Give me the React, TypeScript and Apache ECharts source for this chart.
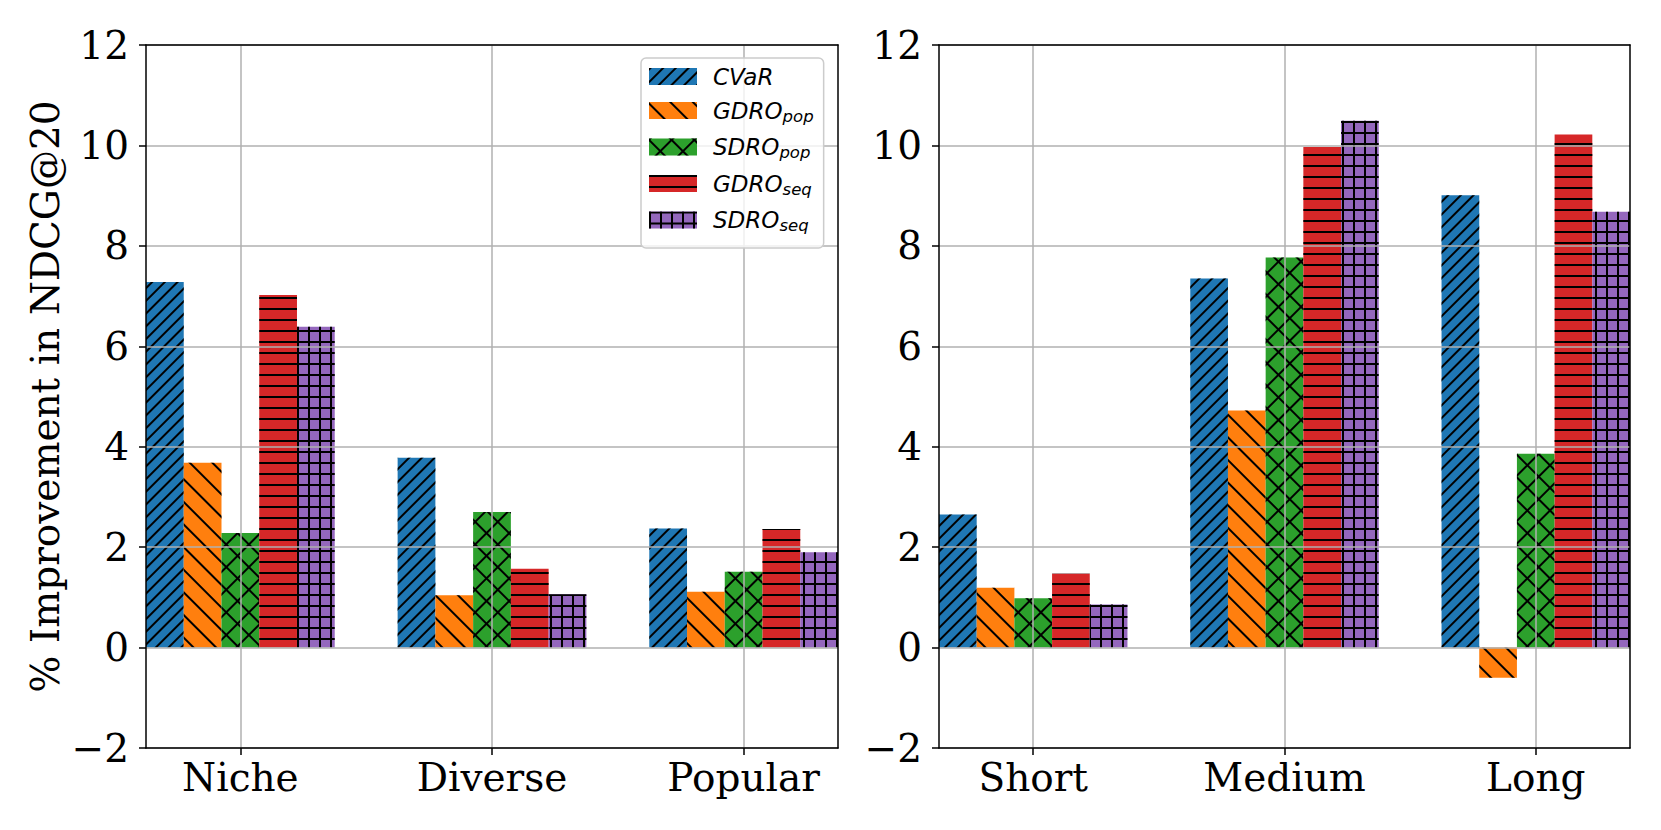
import React, { useEffect, useRef } from 'react';
import * as echarts from 'echarts';

// ---------- data ----------
const leftCategories = ['Niche', 'Diverse', 'Popular'];
const rightCategories = ['Short', 'Medium', 'Long'];
const methods = ['CVaR', 'GDRO_pop', 'SDRO_pop', 'GDRO_seq', 'SDRO_seq'];

// left panel (user groups)
const cvarLeft = [7.28, 3.78, 2.37];
const gdroPopLeft = [3.68, 1.04, 1.11];
const sdroPopLeft = [2.28, 2.7, 1.51];
const gdroSeqLeft = [7.02, 1.57, 2.36];
const sdroSeqLeft = [6.39, 1.06, 1.9];

// right panel (sequence length)
const cvarRight = [2.65, 7.35, 9.01];
const gdroPopRight = [1.19, 4.72, -0.6];
const sdroPopRight = [0.98, 7.77, 3.86];
const gdroSeqRight = [1.47, 9.97, 10.22];
const sdroSeqRight = [0.86, 10.49, 8.68];

const yTicksMin = -2;
const yTicksMax = 12;
const yTickStep = 2;

// ---------- styles ----------
const colors = ['#1f77b4', '#ff7f0e', '#2ca02c', '#d62728', '#9467bd'];
const decals: any[] = [
  { symbol: 'rect', color: '#000', symbolKeepAspect: false, dashArrayX: [[10, 0]], dashArrayY: [2, 7], rotation: -Math.PI / 4 },
  { symbol: 'rect', color: '#000', symbolKeepAspect: false, dashArrayX: [[10, 0]], dashArrayY: [2, 14], rotation: Math.PI / 4 },
  { symbol: 'rect', color: '#000', symbolKeepAspect: false, dashArrayX: [[16, 0], [2, 14]], dashArrayY: [2, 0, 14, 0], rotation: Math.PI / 4 },
  { symbol: 'rect', color: '#000', symbolKeepAspect: false, dashArrayX: [[10, 0]], dashArrayY: [2, 9], rotation: 0 },
  { symbol: 'rect', color: '#000', symbolKeepAspect: false, dashArrayX: [[11, 0], [2, 9]], dashArrayY: [2, 0, 9, 0], rotation: 0 },
];
const legendLabels: Record<string, string> = {
  CVaR: '{a|CVaR}',
  GDRO_pop: '{a|GDRO}{b|pop}',
  SDRO_pop: '{a|SDRO}{b|pop}',
  GDRO_seq: '{a|GDRO}{b|seq}',
  SDRO_seq: '{a|SDRO}{b|seq}',
};

const SERIF = 'DejaVu Serif';
const SANS = 'DejaVu Sans';
const AXIS_W = 1.5;

const fmtY = (v: number) => (v < 0 ? '\u2212' + String(-v) : String(v));

function mainX(gridIndex: number, cats: string[]) {
  return {
    type: 'value',
    gridIndex,
    min: -0.375,
    max: 2.375,
    z: 3,
    axisLine: { show: true, onZero: false, lineStyle: { color: '#000', width: AXIS_W } },
    axisTick: { show: true, customValues: [0, 1, 2], length: 7, inside: false, lineStyle: { color: '#000', width: AXIS_W } },
    axisLabel: {
      show: true,
      customValues: [0, 1, 2],
      formatter: (v: number) => cats[Math.round(v)] ?? '',
      margin: 10,
      fontSize: 39,
      fontFamily: SERIF,
      color: '#000',
    },
    splitLine: { show: true, lineStyle: { color: '#b0b0b0', width: AXIS_W } },
  };
}

function frameX(gridIndex: number) {
  return {
    type: 'value',
    gridIndex,
    position: 'top',
    min: -0.375,
    max: 2.375,
    z: 3,
    axisLine: { show: true, onZero: false, lineStyle: { color: '#000', width: AXIS_W } },
    axisTick: { show: false },
    axisLabel: { show: false },
    splitLine: { show: false },
  };
}

function mainY(gridIndex: number, withName: boolean) {
  return {
    type: 'value',
    gridIndex,
    min: yTicksMin,
    max: yTicksMax,
    interval: yTickStep,
    z: 3,
    name: withName ? '% Improvement in NDCG@20' : '',
    nameLocation: 'middle',
    nameGap: 81,
    nameTextStyle: { fontFamily: SERIF, fontSize: 39, color: '#000' },
    axisLine: { show: true, onZero: false, lineStyle: { color: '#000', width: AXIS_W } },
    axisTick: { show: true, length: 7, inside: false, lineStyle: { color: '#000', width: AXIS_W } },
    axisLabel: { show: true, margin: 17, fontSize: 39, fontFamily: SERIF, color: '#000', formatter: fmtY },
    splitLine: { show: true, lineStyle: { color: '#b0b0b0', width: AXIS_W } },
  };
}

function frameY(gridIndex: number) {
  return {
    type: 'value',
    gridIndex,
    position: 'right',
    min: yTicksMin,
    max: yTicksMax,
    interval: yTickStep,
    z: 3,
    axisLine: { show: true, onZero: false, lineStyle: { color: '#000', width: AXIS_W } },
    axisTick: { show: false },
    axisLabel: { show: false },
    splitLine: { show: false },
  };
}

function makeSeries(panel: number, values: number[][]) {
  return methods.map((m, i) => ({
    name: m,
    type: 'bar',
    xAxisIndex: panel,
    yAxisIndex: panel,
    barWidth: '15%',
    barGap: '0%',
    z: 2,
    emphasis: { disabled: true },
    itemStyle: { color: colors[i], decal: decals[i] },
    data: values[i].map((v, j) => [j, v]),
  }));
}

export default function App() {
  const ref = useRef<HTMLDivElement>(null);
  useEffect(() => {
    if (!ref.current) return;
    const chart = echarts.init(ref.current, null, { renderer: 'svg' });
    const option: any = {
      animation: false,
      backgroundColor: '#fff',
      grid: [
        { left: 146, top: 45, width: 692, height: 703, outerBoundsMode: 'none' },
        { left: 939, top: 45, width: 691, height: 703, outerBoundsMode: 'none' },
      ],
      xAxis: [mainX(0, leftCategories), mainX(1, rightCategories), frameX(0), frameX(1)],
      yAxis: [mainY(0, true), mainY(1, false), frameY(0), frameY(1)],
      legend: {
        left: 641,
        top: 58,
        orient: 'vertical',
        data: methods,
        icon: 'rect',
        itemWidth: 48,
        itemHeight: 17,
        itemGap: 11,
        padding: [7, 10, 14, 8],
        backgroundColor: 'rgba(255,255,255,0.8)',
        borderColor: '#cccccc',
        borderWidth: 1.5,
        borderRadius: 5,
        z: 10,
        selectedMode: false,
        formatter: (name: string) => legendLabels[name] ?? name,
        textStyle: {
          fontFamily: SANS,
          fontStyle: 'italic',
          fontSize: 23,
          color: '#000',
          rich: {
            a: { fontFamily: SANS, fontStyle: 'italic', fontSize: 23, lineHeight: 28, padding: [0, 0, 0, 11], color: '#000' },
            b: { fontFamily: SANS, fontStyle: 'italic', fontSize: 16.5, verticalAlign: 'bottom', color: '#000' },
          },
        },
      },
      series: [
        ...makeSeries(0, [cvarLeft, gdroPopLeft, sdroPopLeft, gdroSeqLeft, sdroSeqLeft]),
        ...makeSeries(1, [cvarRight, gdroPopRight, sdroPopRight, gdroSeqRight, sdroSeqRight]),
      ],
    };
    chart.setOption(option);
    return () => chart.dispose();
  }, []);
  return (
    <div
      ref={ref}
      style={{ position: 'absolute', left: 0, top: 0, width: 1661, height: 830 }}
    />
  );
}
